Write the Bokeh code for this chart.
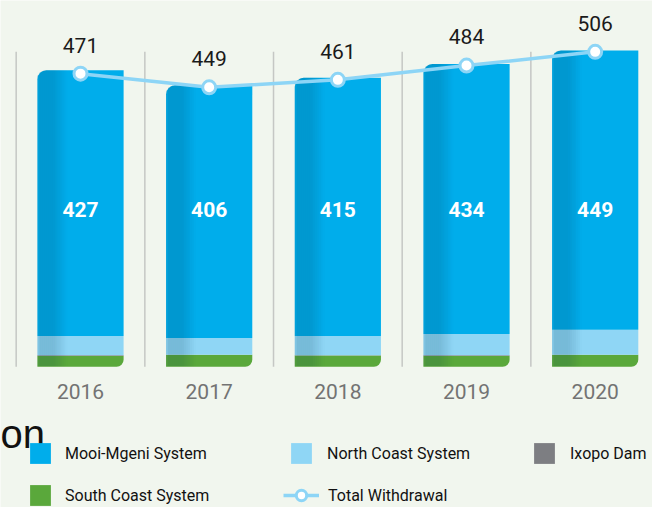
import math
from bokeh.plotting import figure
from bokeh.models import ColumnDataSource, Range1d, Legend, LegendItem
from bokeh.core.properties import value
from bokeh.transform import stack
from bokeh.embed import file_html
from bokeh.resources import INLINE

# ---------------- data ----------------
years = ["2016", "2017", "2018", "2019", "2020"]
mooi_mgeni = [427, 406, 415, 434, 449]
north_coast = [31, 27, 31, 34, 40]
ixopo_dam = [1.5, 0.3, 0.3, 1.5, 0.3]
south_coast = [17, 19, 18, 17, 19]
total_withdrawal = [471, 449, 461, 484, 506]

# ---------------- style ----------------
BG = "#f1f6ee"
BLUE = "#00adeb"
LIGHT_BLUE = "#8fd6f5"
GREY = "#7d7e82"
GREEN = "#5aa83b"
LINE_BLUE = "#8dd5f6"
FONT = "Roboto"

W, H = 652, 507
PX_X = 128.67          # pixels per category
PX_Y = 0.6222          # pixels per unit
x0 = -0.6218
y0 = -226.3
x_range = Range1d(x0, x0 + W / PX_X)
y_range = Range1d(y0, y0 + H / PX_Y)

idx = list(range(len(years)))
src = ColumnDataSource(dict(
    x=idx, year=years, mooi=mooi_mgeni, north=north_coast, ixopo=ixopo_dam,
    south=south_coast, total=total_withdrawal,
    stack_top=[a + b + c + d for a, b, c, d in zip(mooi_mgeni, north_coast, ixopo_dam, south_coast)],
    top_lbl=[str(t) for t in total_withdrawal],
    in_lbl=[str(m) for m in mooi_mgeni],
    top_y=[t + 46 for t in total_withdrawal],
    in_y=[max(total_withdrawal) / 2] * len(years),
    yr_y=[-40] * len(years),
))

p = figure(width=W, height=H, x_range=x_range, y_range=y_range,
           output_backend="svg", toolbar_location=None,
           x_axis_location=None, y_axis_location=None,
           min_border=0, background_fill_color=BG, border_fill_color=BG,
           outline_line_color=None)
p.grid.visible = False

# separators
p.segment(x0=[i - 0.5 for i in idx], y0=[0] * len(idx),
          x1=[i - 0.5 for i in idx], y1=[max(total_withdrawal)] * len(idx),
          line_color="#c5c7c4", line_width=1.5)

BW = 0.67
r_south = p.vbar(x="x", width=BW, bottom=0, top=stack("south"), source=src,
                 fill_color=GREEN, line_color=None, border_radius=(0, 0, 7, 0))
r_ixopo = p.vbar(x="x", width=BW, bottom=stack("south"), top=stack("south", "ixopo"),
                 source=src, fill_color=GREY, line_color=None)
r_north = p.vbar(x="x", width=BW, bottom=stack("south", "ixopo"),
                 top=stack("south", "ixopo", "north"), source=src,
                 fill_color=LIGHT_BLUE, line_color=None)
r_mooi = p.vbar(x="x", width=BW, bottom=stack("south", "ixopo", "north"),
                top=stack("south", "ixopo", "north", "mooi"), source=src,
                fill_color=BLUE, line_color=None, border_radius=(9, 0, 0, 0))

# left-side shading of the cylinders
n_str = 15
sw_px = 2.0
R = 9.0
for k in range(n_str):
    d = (k + 0.5) * sw_px
    if d < 3:
        a = 0.08 + 0.03 * d
    elif d < 16:
        a = 0.17
    else:
        a = 0.17 * max(0.0, 1 - (d - 16) / 14)
    drop = 0.0
    if d < R:
        drop = (R - math.sqrt(max(0.0, R * R - (R - d) ** 2))) / PX_Y
    off = -BW / 2 + d / PX_X
    tops = [t - drop for t in src.data["stack_top"]]
    p.vbar(x=[i + off for i in idx], width=sw_px / PX_X, bottom=[0.8] * len(idx), top=tops,
           fill_color="#00344f", fill_alpha=a, line_color=None)

# total line
r_line = p.line(x="x", y="total", source=src, line_color=LINE_BLUE, line_width=3.5)
r_pts = p.scatter(x="x", y="total", source=src, size=13, fill_color="white",
                  line_color=LINE_BLUE, line_width=3)

# labels
p.text(x="x", y="top_y", text="top_lbl", source=src, text_align="center",
       text_baseline="middle", text_font=value(FONT), text_font_size="21px",
       text_color="#1a1a1a")
p.text(x="x", y="in_y", text="in_lbl", source=src, text_align="center",
       text_baseline="middle", text_font=value(FONT), text_font_size="21px",
       text_font_style="bold", text_color="white")
p.text(x="x", y="yr_y", text="year", source=src, text_align="center",
       text_baseline="middle", text_font=value(FONT), text_font_size="21px",
       text_color="#737373")

# cropped title fragment
p.text(x=[x0], y=[-107.6], text=["on"], text_align="left", text_baseline="alphabetic",
       text_font=value("Liberation Sans"), text_font_size="40px", text_color="#111111")


def add_legend(label, renderers, lx, ly, gw, gh, standoff):
    lg = Legend(items=[LegendItem(label=label, renderers=renderers)],
                location=(lx, ly), orientation="horizontal",
                glyph_width=gw, glyph_height=gh, label_height=gh,
                label_standoff=standoff, padding=0, margin=0, spacing=0,
                border_line_color=None, background_fill_alpha=0,
                label_text_font=FONT, label_text_font_size="16px",
                label_text_color="#111111", label_text_baseline="middle")
    p.add_layout(lg)


add_legend("Mooi-Mgeni System", [r_mooi], 27, 41, 26, 26, 12)
add_legend("North Coast System", [r_north], 288, 41, 26, 26, 13)
add_legend("Ixopo Dam", [r_ixopo], 531, 41, 26, 26, 13)
add_legend("South Coast System", [r_south], 27, -1, 26, 26, 12)
add_legend("Total Withdrawal", [r_line, r_pts], 283, -1, 36, 26, 9)

open("out.html", "w").write(file_html(p, INLINE))
